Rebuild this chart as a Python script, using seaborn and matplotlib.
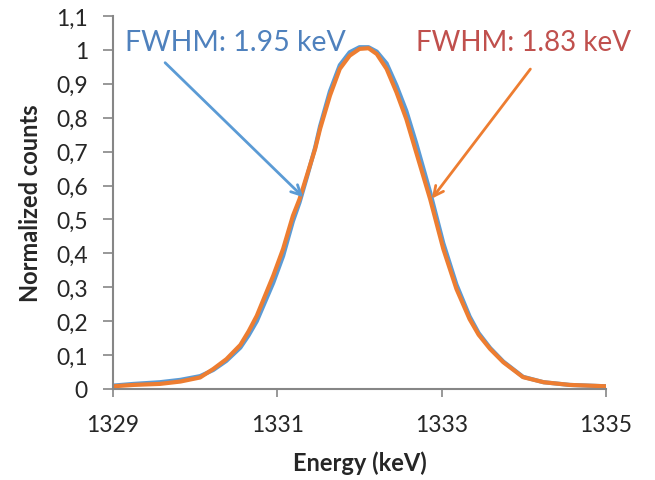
import matplotlib
matplotlib.use("Agg")
import matplotlib.pyplot as plt
import seaborn as sns
import pandas as pd

# ---- data ----
energy = [1329.00, 1329.25, 1329.57, 1329.82, 1330.06, 1330.22, 1330.38, 1330.55,
          1330.65, 1330.75, 1330.95, 1331.07, 1331.19, 1331.27, 1331.36, 1331.46,
          1331.52, 1331.64, 1331.76, 1331.88, 1332.00, 1332.11, 1332.21, 1332.33,
          1332.45, 1332.57, 1332.69, 1332.86, 1333.02, 1333.18, 1333.34, 1333.45,
          1333.59, 1333.75, 1333.99, 1334.24, 1334.56, 1335.00]
counts_blue = [0.010, 0.015, 0.020, 0.027, 0.038, 0.056, 0.083, 0.122,
               0.158, 0.200, 0.313, 0.392, 0.495, 0.550, 0.625, 0.712,
               0.775, 0.878, 0.955, 0.993, 1.008, 1.008, 0.995, 0.960,
               0.895, 0.820, 0.725, 0.580, 0.430, 0.308, 0.214, 0.165,
               0.121, 0.081, 0.036, 0.020, 0.012, 0.008]
counts_orange = [0.008, 0.012, 0.015, 0.022, 0.034, 0.059, 0.088, 0.130,
                 0.170, 0.216, 0.334, 0.413, 0.511, 0.560, 0.630, 0.708,
                 0.767, 0.865, 0.944, 0.983, 1.003, 1.005, 0.988, 0.944,
                 0.875, 0.796, 0.698, 0.560, 0.413, 0.295, 0.206, 0.160,
                 0.118, 0.079, 0.035, 0.020, 0.012, 0.008]
x_ticks = [1329, 1331, 1333, 1335]
y_ticks = [0, 0.1, 0.2, 0.3, 0.4, 0.5, 0.6, 0.7, 0.8, 0.9, 1.0, 1.1]
y_tick_labels = ["0", "0,1", "0,2", "0,3", "0,4", "0,5", "0,6", "0,7", "0,8", "0,9", "1", "1,1"]
label_blue = "FWHM: 1.95 keV"
label_orange = "FWHM: 1.83 keV"

sns.set_style("white")
plt.rcParams["font.family"] = ["Lato", "DejaVu Sans"]

BLUE = "#5B9BD5"
ORANGE = "#ED7D31"
BLUE_TXT = "#4F81BD"
RED_TXT = "#C0504D"
GRAY = "#868686"

df_b = pd.DataFrame({"Energy": energy, "Counts": counts_blue})
df_o = pd.DataFrame({"Energy": energy, "Counts": counts_orange})

fig = plt.figure(figsize=(6.55, 4.81), dpi=100)
ax = fig.add_axes([113 / 655, 1 - 390 / 481, (606 - 113) / 655, (390 - 17) / 481])

sns.lineplot(data=df_b, x="Energy", y="Counts", color=BLUE, lw=3.0, ax=ax)
sns.lineplot(data=df_o, x="Energy", y="Counts", color=ORANGE, lw=3.0, ax=ax)

ax.set_xlim(1329, 1335)
ax.set_ylim(0, 1.1)
ax.set_xticks(x_ticks)
ax.set_xticklabels([str(t) for t in x_ticks], fontsize=16.5)
ax.set_yticks(y_ticks)
ax.set_yticklabels(y_tick_labels, fontsize=16.5)

for s in ["top", "right"]:
    ax.spines[s].set_visible(False)
for s in ["left", "bottom"]:
    ax.spines[s].set_color(GRAY)
    ax.spines[s].set_linewidth(1.5)
ax.tick_params(axis="y", direction="out", length=7, width=1.2, color=GRAY, pad=11, left=True)
ax.tick_params(axis="x", direction="out", length=6, width=1.2, color=GRAY, pad=12, bottom=True)

ax.set_xlabel("Energy (keV)", fontsize=17, fontweight="bold", labelpad=11)
ax.set_ylabel("Normalized counts", fontsize=17, fontweight="bold", labelpad=10)

ax.text(1329.146, 1.024, label_blue, color=BLUE_TXT, fontsize=20.5, va="center", ha="left")
ax.text(1332.69, 1.024, label_orange, color=RED_TXT, fontsize=20, va="center", ha="left",
        clip_on=False)

ax.annotate("", xy=(1331.34, 0.560), xytext=(1329.61, 0.968),
            arrowprops=dict(arrowstyle="->,head_length=0.7,head_width=0.35", color=BLUE, lw=2))
ax.annotate("", xy=(1332.86, 0.555), xytext=(1334.10, 0.95),
            arrowprops=dict(arrowstyle="->,head_length=0.7,head_width=0.35", color=ORANGE, lw=2))

fig.savefig("out.png", dpi=100)
